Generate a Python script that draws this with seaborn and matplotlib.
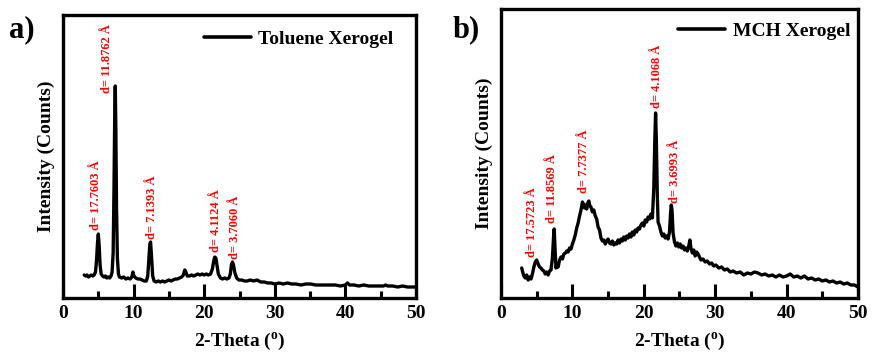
import matplotlib
matplotlib.use("Agg")
import matplotlib.pyplot as plt
import seaborn as sns
import pandas as pd

sns.set_style("ticks", {"axes.edgecolor": "black", "xtick.color": "black",
                        "ytick.color": "black", "text.color": "black",
                        "axes.labelcolor": "black"})
plt.rcParams['font.family'] = ['Liberation Serif', 'DejaVu Serif']
plt.rcParams['font.weight'] = 'bold'
plt.rcParams['mathtext.fontset'] = 'custom'
plt.rcParams['mathtext.rm'] = 'Liberation Serif:bold'
plt.rcParams['mathtext.bf'] = 'Liberation Serif:bold'

# ---- Panel a: Toluene Xerogel ----
tol_theta = [3.0, 3.2, 3.4, 3.6, 3.8, 4.0, 4.2, 4.4, 4.6, 4.75, 4.88, 5.0, 5.12, 5.25, 5.4, 5.6,
             5.8, 6.0, 6.2, 6.4, 6.6, 6.8, 6.95, 7.1, 7.22, 7.32, 7.4, 7.48, 7.58, 7.7, 7.85,
             8.0, 8.3, 8.6, 8.9, 9.2, 9.5, 9.75, 9.9, 10.05, 10.3, 10.6, 10.9, 11.2, 11.5,
             11.8, 12.0, 12.15, 12.3, 12.4, 12.55, 12.7, 12.9, 13.2, 13.5, 13.8, 14.1, 14.4,
             14.7, 15.0, 15.3, 15.6, 15.9, 16.2, 16.5, 16.8, 17.05, 17.25, 17.4, 17.6, 17.9,
             18.2, 18.5, 18.8, 19.1, 19.4, 19.7, 20.0, 20.3, 20.6, 20.9, 21.15, 21.35, 21.5,
             21.65, 21.8, 22.0, 22.3, 22.6, 22.9, 23.2, 23.5, 23.7, 23.85, 24.0, 24.15, 24.35,
             24.6, 24.9, 25.3, 25.7, 26.1, 26.5, 27.0, 27.5, 28.0, 28.5, 29.0, 29.5, 30.0,
             30.6, 31.2, 31.8, 32.4, 33.0, 33.7, 34.4, 35.1, 35.8, 36.5, 37.2, 37.9, 38.6,
             39.3, 40.0, 40.3, 40.6, 41.2, 41.9, 42.6, 43.3, 44.0, 44.7, 45.4, 45.7, 46.0,
             46.7, 47.4, 48.1, 48.8, 49.4, 50.0]
tol_int = [23, 22, 23, 21, 22, 23, 22, 23, 26, 38, 55, 64, 52, 33, 24, 22,
           21, 22, 20, 21, 20, 22, 26, 45, 110, 180, 212, 170, 90, 40, 24,
           21, 20, 21, 19, 20, 19, 21, 26, 22, 20, 19, 19, 18, 17,
           17, 22, 38, 54, 56, 40, 22, 17, 16, 17, 16, 17, 16,
           17, 18, 17, 18, 19, 19, 20, 21, 23, 28, 26, 22, 22,
           23, 22, 23, 24, 23, 24, 23, 24, 23, 24, 29, 37, 41,
           40, 33, 24, 20, 19, 20, 19, 20, 24, 33, 36, 33, 25,
           20, 18, 18, 17, 17, 18, 17, 18, 16, 16, 15, 15, 14,
           15, 14, 15, 14, 14, 13, 14, 14, 13, 13, 13, 13, 13,
           12, 13, 15, 13, 13, 12, 13, 12, 12, 12, 12, 13, 12,
           12, 11, 12, 11, 11, 11]
tol_pos = [4.7, 6.2, 12.6, 21.7, 24.4]
tol_lab_y = [68, 205, 59, 46, 39]
tol_labels = ["d= 17.7603 Å", "d= 11.8762 Å", "d= 7.1393 Å", "d= 4.1124 Å", "d= 3.7060 Å"]

# ---- Panel b: MCH Xerogel ----
mch_theta = [2.9, 3.0, 3.2, 3.4, 3.6, 3.8, 4.0, 4.2, 4.4, 4.6, 4.8, 5.0, 5.2, 5.4, 5.6, 5.8,
             6.0, 6.2, 6.4, 6.6, 6.8, 7.0, 7.2, 7.35, 7.45, 7.55, 7.7, 7.85, 8.0, 8.2, 8.4,
             8.6, 8.8, 9.0, 9.2, 9.4, 9.6, 9.8, 10.0, 10.2, 10.4, 10.6, 10.8, 11.0, 11.2,
             11.4, 11.55, 11.7, 11.85, 12.0, 12.15, 12.3, 12.45, 12.6, 12.8, 13.0, 13.2,
             13.4, 13.6, 13.8, 14.0, 14.2, 14.4, 14.6, 14.8, 15.0, 15.2, 15.4, 15.6, 15.8,
             16.0, 16.2, 16.4, 16.6, 16.8, 17.0, 17.2, 17.4, 17.6, 17.8, 18.0, 18.2, 18.4,
             18.6, 18.8, 19.0, 19.2, 19.4, 19.6, 19.8, 20.0, 20.2, 20.4, 20.6, 20.8, 21.0,
             21.2, 21.4, 21.55, 21.65, 21.75, 21.9, 22.0, 22.2, 22.4, 22.6, 22.8, 23.0, 23.2,
             23.4, 23.6, 23.75, 23.85, 23.95, 24.1, 24.3, 24.5, 24.7, 24.9, 25.1, 25.3, 25.5,
             25.7, 25.9, 26.1, 26.3, 26.45, 26.6, 26.8, 27.0, 27.2, 27.4, 27.6, 27.8, 28.0,
             28.3, 28.6, 28.9, 29.2, 29.5, 29.8, 30.1, 30.5, 30.9, 31.3, 31.7, 32.1, 32.5,
             33.0, 33.5, 34.0, 34.5, 35.0, 35.5, 36.0, 36.5, 37.0, 37.5, 38.0, 38.5, 39.0,
             39.5, 40.0, 40.5, 41.0, 41.5, 42.0, 42.5, 43.0, 43.5, 44.0, 44.5, 45.0, 45.5,
             46.0, 46.5, 47.0, 47.5, 48.0, 48.5, 49.0, 49.5, 50.0]
mch_int = [30, 27, 22, 20, 23, 18, 21, 19, 24, 31, 36, 38, 34, 31, 30, 28,
           27, 24, 26, 23, 27, 28, 40, 60, 69, 52, 30, 34, 31, 38, 41,
           39, 44, 45, 47, 46, 50, 49, 54, 58, 63, 70, 75, 82, 88,
           96, 94, 90, 93, 89, 95, 97, 92, 91, 86, 88, 82,
           79, 71, 68, 60, 57, 58, 54, 57, 59, 55, 54, 57, 53,
           55, 54, 58, 55, 59, 57, 61, 58, 62, 60, 64, 61, 66,
           63, 68, 66, 70, 69, 73, 75, 72, 78, 76, 81, 79, 84,
           80, 110, 160, 185, 160, 100, 76, 72, 66, 62, 64, 60, 62,
           59, 66, 85, 93, 88, 65, 56, 52, 55, 51, 54, 50, 52,
           48, 50, 47, 52, 58, 50, 45, 48, 42, 46, 44, 41, 38,
           39, 36, 37, 34, 35, 32, 33, 30, 31, 28, 29, 26, 27,
           25, 26, 23, 25, 24, 26, 25, 23, 24, 22, 23, 21, 23,
           21, 22, 24, 21, 22, 20, 22, 19, 20, 18, 19, 17, 18,
           16, 17, 15, 16, 14, 15, 13, 13, 11]
mch_pos = [4.3, 7.2, 11.6, 21.8, 24.3]
mch_lab_y = [41, 75, 105, 190, 95]
mch_labels = ["d= 17.5723 Å", "d= 11.8569 Å", "d= 7.7377 Å", "d= 4.1068 Å", "d= 3.6993 Å"]

df_a = pd.DataFrame({"theta": tol_theta, "I": tol_int})
df_b = pd.DataFrame({"theta": mch_theta, "I": mch_int})

fig = plt.figure(figsize=(8.73, 3.53), dpi=100)
ax_a = fig.add_axes([0.0722, 0.1558, 0.4043, 0.8017])
ax_b = fig.add_axes([0.5739, 0.1558, 0.4089, 0.8187])

panels = [
    (ax_a, df_a, "Toluene Xerogel", tol_pos, tol_lab_y, tol_labels, 283, "a)", 0.010, (0.975, 0.993)),
    (ax_b, df_b, "MCH Xerogel", mch_pos, mch_lab_y, mch_labels, 289, "b)", 0.518, (1.017, 1.0)),
]

for ax, df, name, pos, laby, labs, ymax, tag, tx, anchor in panels:
    sns.lineplot(data=df, x="theta", y="I", ax=ax, color="black", lw=2.4, label=name)
    ax.set_xlim(0, 50)
    ax.set_ylim(0, ymax)
    ax.set_xticks([0, 10, 20, 30, 40, 50])
    ax.set_xticks([5, 15, 25, 35, 45], minor=True)
    ax.set_yticks([])
    ax.tick_params(axis='x', which='major', direction='in', length=10, width=2.2,
                   labelsize=14, pad=5, color='black', labelcolor='black')
    ax.tick_params(axis='x', which='minor', direction='in', length=5, width=2.2,
                   color='black')
    for lbl in ax.get_xticklabels():
        lbl.set_fontweight('bold')
    for sp in ax.spines.values():
        sp.set_visible(True)
        sp.set_linewidth(2.4)
        sp.set_color('black')
    ax.set_xlabel("2-Theta ($^{\\mathbf{o}}$)", fontsize=14, fontweight='bold', labelpad=6,
                  color='black')
    ax.set_ylabel("Intensity (Counts)", fontsize=14, fontweight='bold', labelpad=6,
                  color='black')
    for xp, yp, t in zip(pos, laby, labs):
        ax.text(xp, yp, t, rotation=90, color="red", fontsize=9, fontweight='bold',
                ha='center', va='bottom')
    leg = ax.legend(loc='upper right', bbox_to_anchor=anchor, frameon=False,
                    handlelength=2.4, borderaxespad=0.3, handletextpad=0.4,
                    prop={'weight': 'bold', 'size': 14})
    for line in leg.get_lines():
        line.set_linewidth(2.6)
    for t in leg.get_texts():
        t.set_color('black')
    fig.text(tx, 0.915, tag, fontsize=22, fontweight='bold', va='center', ha='left',
             color='black')

fig.savefig("out.png", dpi=100)
